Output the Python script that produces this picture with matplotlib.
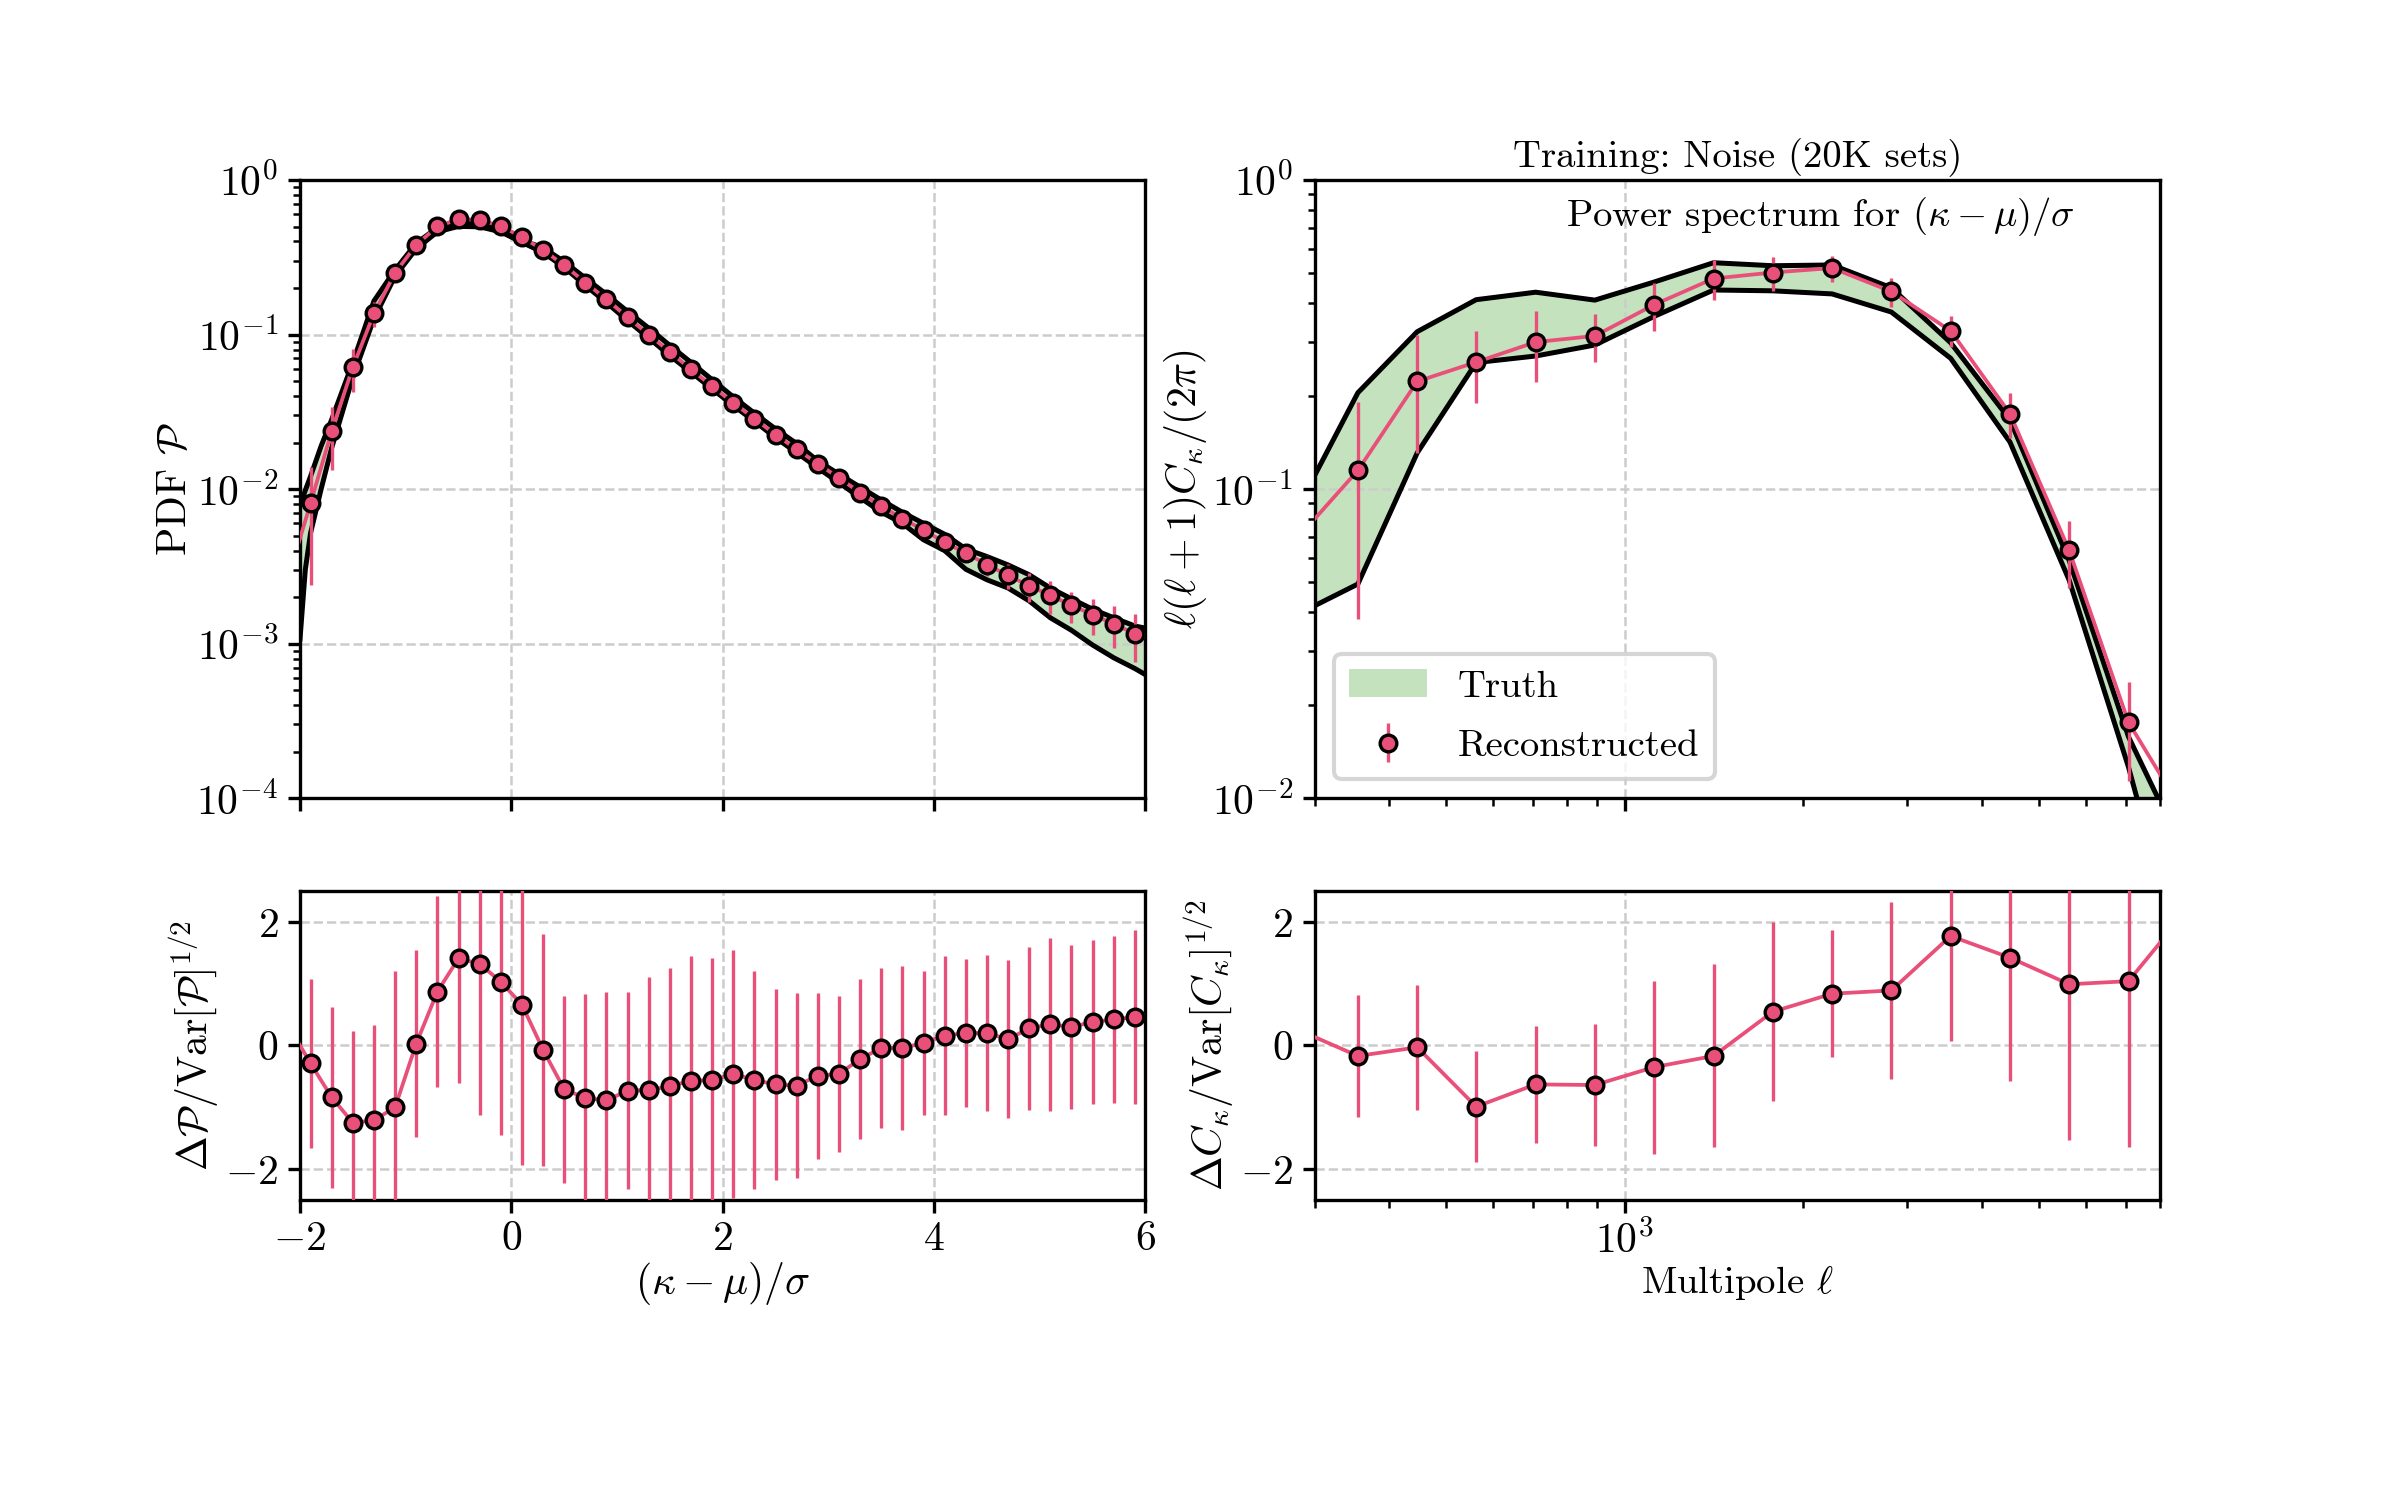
import numpy as np
import matplotlib
matplotlib.use("Agg")
import matplotlib.pyplot as plt
from matplotlib.ticker import FuncFormatter, NullFormatter

plt.rcParams.update({
    "font.family": "serif",
    "font.serif": ["cmr10"],
    "mathtext.fontset": "cm",
    "axes.unicode_minus": False,
    "axes.formatter.use_mathtext": True,
    "font.size": 10,
    "xtick.major.size": 3.0,
    "ytick.major.size": 3.0,
    "xtick.minor.size": 1.8,
    "ytick.minor.size": 1.8,
    "xtick.major.pad": 2.0,
    "ytick.major.pad": 2.2,
})

PINK = "#e8507a"
GREEN = "#c4e2bd"
TXT = 9.3

# ---------------- PDF panel data ----------------
x_pdf = [-2.1, -1.9, -1.7, -1.5, -1.3, -1.1, -0.9, -0.7, -0.5, -0.3, -0.1,
         0.1, 0.3, 0.5, 0.7, 0.9, 1.1, 1.3, 1.5, 1.7, 1.9,
         2.1, 2.3, 2.5, 2.7, 2.9, 3.1, 3.3, 3.5, 3.7, 3.9,
         4.1, 4.3, 4.5, 4.7, 4.9, 5.1, 5.3, 5.5, 5.7, 5.9, 6.1]
pdf_rec = [0.00284, 0.0081, 0.0237, 0.0615, 0.137, 0.251, 0.380, 0.501, 0.557, 0.551, 0.504,
           0.428, 0.352, 0.281, 0.217, 0.169, 0.129, 0.100, 0.0771, 0.0596, 0.0463,
           0.0361, 0.0286, 0.0225, 0.0181, 0.0146, 0.0118, 0.0095, 0.00778, 0.00644, 0.00543,
           0.00453, 0.00385, 0.00325, 0.00276, 0.00237, 0.00205, 0.00177, 0.00154, 0.00134, 0.00116, 0.00106]
pdf_err = [0.002, 0.0057, 0.0104, 0.019, 0.025, 0.02, 0.02, 0.02, 0.02, 0.02, 0.02,
           0.02, 0.015, 0.013, 0.011, 0.009, 0.008, 0.007, 0.006, 0.005, 0.004,
           0.003, 0.0025, 0.002, 0.0015, 0.0012, 0.0010, 0.0008, 0.0007, 0.0006, 0.0005,
           0.0005, 0.0005, 0.0005, 0.0005, 0.0005, 0.0005, 0.0004, 0.0004, 0.0004, 0.0004, 0.0004]

x_band_pdf = [-2.0, -1.95, -1.9, -1.8, -1.7, -1.5, -1.3, -1.1, -0.9, -0.7, -0.5, -0.3, -0.1,
              0.1, 0.3, 0.5, 0.7, 0.9, 1.1, 1.3, 1.5, 1.7, 1.9,
              2.1, 2.3, 2.5, 2.7, 2.9, 3.1, 3.3, 3.5, 3.7, 3.9,
              4.1, 4.3, 4.5, 4.7, 4.9, 5.1, 5.3, 5.5, 5.7, 5.9, 6.0]
pdf_truth_hi = [0.0078, 0.0098, 0.0121, 0.019, 0.0282, 0.066, 0.165, 0.262, 0.39, 0.492, 0.533, 0.533, 0.477,
                0.407, 0.365, 0.296, 0.232, 0.182, 0.141, 0.110, 0.085, 0.066, 0.051,
                0.0395, 0.031, 0.0245, 0.0197, 0.0152, 0.0125, 0.0103, 0.0085, 0.00708, 0.0060,
                0.0051, 0.0041, 0.00366, 0.00323, 0.00279, 0.00229, 0.00195, 0.00167, 0.00147, 0.0013, 0.00126]
pdf_truth_lo = [0.00107, 0.0030, 0.0052, 0.0100, 0.0185, 0.053, 0.127, 0.239, 0.359, 0.462, 0.501, 0.498, 0.462,
                0.395, 0.340, 0.272, 0.208, 0.161, 0.123, 0.095, 0.073, 0.057, 0.0445,
                0.0347, 0.0275, 0.0215, 0.0172, 0.0137, 0.011, 0.0088, 0.0071, 0.0060, 0.0047,
                0.0040, 0.00303, 0.00259, 0.00229, 0.00189, 0.00147, 0.00122, 0.00098, 0.00081, 0.00069, 0.00063]

dpdf = [0.29, -0.29, -0.84, -1.25, -1.21, -1.00, 0.03, 0.87, 1.41, 1.32, 1.03,
        0.66, -0.07, -0.71, -0.85, -0.89, -0.73, -0.72, -0.66, -0.57, -0.56,
        -0.46, -0.56, -0.63, -0.65, -0.49, -0.46, -0.22, -0.04, -0.04, 0.04,
        0.16, 0.20, 0.20, 0.10, 0.28, 0.34, 0.30, 0.38, 0.42, 0.46, 0.51]
dpdf_err = [1.37, 1.37, 1.47, 1.48, 1.54, 2.2, 1.51, 1.55, 2.02, 2.44, 2.48,
            2.59, 1.88, 1.51, 1.68, 1.75, 1.59, 1.82, 1.91, 2.01, 1.97,
            2.01, 1.77, 1.55, 1.50, 1.34, 1.26, 1.30, 1.29, 1.32, 1.17,
            1.28, 1.20, 1.26, 1.28, 1.32, 1.40, 1.33, 1.32, 1.35, 1.41, 1.41]

# ---------------- Power spectrum panel data ----------------
ell = [282, 355, 447, 562, 708, 891, 1122, 1413, 1778, 2239, 2818, 3548, 4467, 5623, 7079, 8913]
cl_rec = [0.070, 0.115, 0.223, 0.2575, 0.299, 0.313, 0.395, 0.480, 0.502, 0.519, 0.436,
          0.325, 0.1754, 0.0633, 0.0176, 0.0085]
cl_err = [0.05, 0.077, 0.092, 0.068, 0.077, 0.055, 0.07, 0.071, 0.063, 0.05, 0.047,
          0.037, 0.029, 0.0155, 0.0062, 0.003]
cl_truth_hi = [0.088, 0.205, 0.323, 0.410, 0.4335, 0.4087, 0.4677, 0.540, 0.528, 0.531, 0.448,
               0.2975, 0.1676, 0.0587, 0.0158, 0.0063]
cl_truth_lo = [0.0395, 0.0493, 0.131, 0.2566, 0.2695, 0.2925, 0.362, 0.4407, 0.438, 0.428, 0.374,
               0.265, 0.142, 0.0507, 0.0126, 0.0025]
dcl = [0.25, -0.17, -0.03, -0.99, -0.63, -0.64, -0.35, -0.17, 0.545, 0.837, 0.89,
       1.77, 1.42, 0.99, 1.04, 2.21]
dcl_err = [1.0, 0.99, 1.01, 0.90, 0.94, 0.98, 1.40, 1.48, 1.45, 1.03, 1.43,
           1.69, 2.0, 2.52, 2.69, 2.7]

fig = plt.figure(figsize=(8, 5), dpi=300)
gs = fig.add_gridspec(2, 2, left=0.125, right=0.9, top=0.88, bottom=0.2,
                      height_ratios=[2, 1], hspace=0.2, wspace=0.2)
ax1 = fig.add_subplot(gs[0, 0])
ax3 = fig.add_subplot(gs[1, 0], sharex=ax1)
ax2 = fig.add_subplot(gs[0, 1])
ax4 = fig.add_subplot(gs[1, 1], sharex=ax2)

grid_kw = dict(color="#cccccc", linestyle="--", linewidth=0.6)
eb_kw = dict(fmt="o", ecolor=PINK, mfc=PINK, mec="black",
             ms=4.0, mew=0.8, elinewidth=0.8, capsize=0, zorder=4)
line_kw = dict(color=PINK, lw=0.9, zorder=3)

# PDF top
ax1.fill_between(x_band_pdf, pdf_truth_lo, pdf_truth_hi, color=GREEN, lw=0)
ax1.plot(x_band_pdf, pdf_truth_hi, color="black", lw=1.2)
ax1.plot(x_band_pdf, pdf_truth_lo, color="black", lw=1.2)
ax1.plot(x_pdf, pdf_rec, **line_kw)
ax1.errorbar(x_pdf, pdf_rec, yerr=pdf_err, **eb_kw)
ax1.set_yscale("log")
ax1.set_ylim(1e-4, 1)
ax1.set_xlim(-2, 6)
ax1.set_ylabel(r"PDF $\mathcal{P}$")
ax1.yaxis.set_label_coords(-0.125, 0.5)
ax1.grid(True, which="major", **grid_kw)
ax1.tick_params(labelbottom=False)

# PDF residual
ax3.plot(x_pdf, dpdf, **line_kw)
ax3.errorbar(x_pdf, dpdf, yerr=dpdf_err, **eb_kw)
ax3.set_ylim(-2.5, 2.5)
ax3.set_yticks([-2, 0, 2])
ax3.set_xticks([-2, 0, 2, 4, 6])
fmt = FuncFormatter(lambda v, p: r"$%d$" % round(v))
ax3.yaxis.set_major_formatter(fmt)
ax3.xaxis.set_major_formatter(fmt)
ax3.set_xlabel(r"$(\kappa-\mu)/\sigma$", labelpad=0.5)
ax3.set_ylabel(r"$\Delta\mathcal{P}/{\rm Var}[\mathcal{P}]^{1/2}$")
ax3.yaxis.set_label_coords(-0.093, 0.5)
ax3.grid(True, which="major", **grid_kw)

# Power spectrum top
ax2.fill_between(ell, cl_truth_lo, cl_truth_hi, color=GREEN, lw=0, label="Truth")
ax2.plot(ell, cl_truth_hi, color="black", lw=1.2)
ax2.plot(ell, cl_truth_lo, color="black", lw=1.2)
ax2.plot(ell, cl_rec, **line_kw)
ax2.errorbar(ell, cl_rec, yerr=cl_err, label="Reconstructed", **eb_kw)
ax2.set_xscale("log")
ax2.set_yscale("log")
ax2.set_xlim(300, 8000)
ax2.set_ylim(1e-2, 1)
ax2.set_ylabel(r"$\ell(\ell+1)C_\kappa/(2\pi)$")
ax2.yaxis.set_label_coords(-0.125, 0.5)
ax2.set_title("Training: Noise (20K sets)", pad=3, fontsize=TXT)
ax2.text(0.9, 0.975, r"Power spectrum for $(\kappa-\mu)/\sigma$", transform=ax2.transAxes,
         ha="right", va="top", fontsize=TXT)
ax2.grid(True, which="major", **grid_kw)
ax2.tick_params(labelbottom=False)
ax2.legend(loc="lower left", fontsize=TXT, labelspacing=0.66)

# Power spectrum residual
ax4.plot(ell, dcl, **line_kw)
ax4.errorbar(ell, dcl, yerr=dcl_err, **eb_kw)
ax4.set_ylim(-2.5, 2.5)
ax4.set_yticks([-2, 0, 2])
ax4.yaxis.set_major_formatter(fmt)
ax4.xaxis.set_minor_formatter(NullFormatter())
ax4.set_xlabel(r"Multipole $\ell$", fontsize=TXT, labelpad=0.5)
ax4.set_ylabel(r"$\Delta C_\kappa/{\rm Var}[C_\kappa]^{1/2}$")
ax4.yaxis.set_label_coords(-0.093, 0.5)
ax4.grid(True, which="major", **grid_kw)

fig.savefig("out.png", dpi=300)
